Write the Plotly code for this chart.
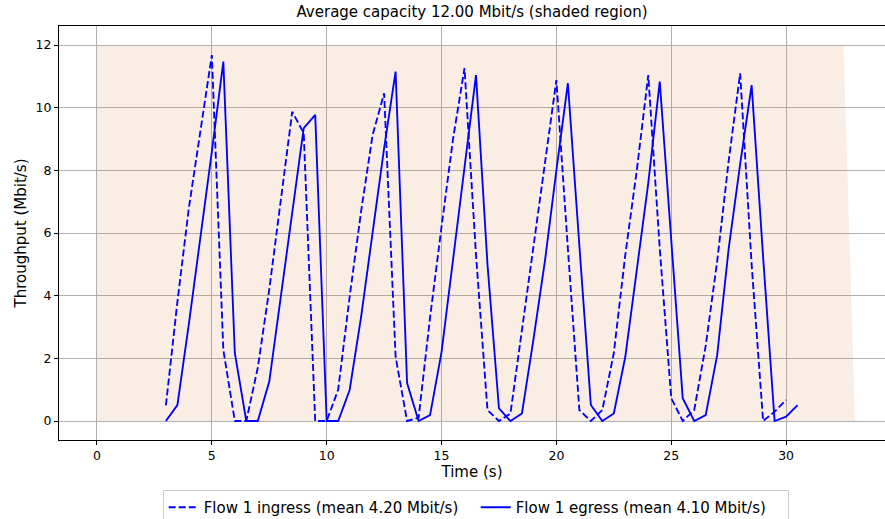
import plotly.graph_objects as go

# ---- data ----
cap_t = [0.0, 32.5, 33.0]
cap_v = [12.0, 12.0, 0.0]

ingress_t = [3.0 + 0.5 * i for i in range(55)]  # 3.0 .. 30.0
ingress_v = [0.5, 3.8, 6.8, 9.3, 11.68, 2.27, 0.0, 0.0, 1.7, 4.2,
             7.0, 9.87, 9.19, 0.0, 0.0, 1.0, 3.97, 6.7, 9.13, 10.46,
             2.05, 0.0, 0.1, 3.3, 6.2, 9.0, 11.26, 5.3, 0.35, 0.0,
             0.24, 2.9, 5.6, 8.2, 10.88, 5.5, 0.35, 0.0, 0.35, 2.17,
             5.3, 8.0, 11.04, 5.5, 0.73, 0.0, 0.35, 2.4, 5.1, 8.3,
             11.1, 5.0, 0.0, 0.3, 0.67]

egress_t = [3.0 + 0.5 * i for i in range(56)]  # 3.0 .. 30.5
egress_v = [0.0, 0.51, 3.1, 5.78, 8.6, 11.47, 2.17, 0.0, 0.0, 1.26,
            4.0, 6.6, 9.35, 9.77, 0.0, 0.0, 0.99, 3.33, 6.03, 8.71,
            11.15, 1.21, 0.0, 0.19, 2.2, 5.2, 8.2, 11.04, 5.0, 0.4,
            0.0, 0.24, 2.6, 5.1, 8.0, 10.78, 5.6, 0.51, 0.0, 0.24,
            2.05, 4.82, 7.59, 10.83, 5.85, 0.73, 0.0, 0.19, 2.1, 5.5,
            8.2, 10.72, 5.23, 0.0, 0.14, 0.51]

x_ticks = [0, 5, 10, 15, 20, 25, 30]
y_ticks = [0, 2, 4, 6, 8, 10, 12]

title_text = "Average capacity 12.00 Mbit/s (shaded region)"
ingress_name = "Flow 1 ingress (mean 4.20 Mbit/s)"
egress_name = "Flow 1 egress (mean 4.10 Mbit/s)"

FONT = "DejaVu Sans"

fig = go.Figure()
fig.add_trace(go.Scatter(
    x=cap_t, y=cap_v, mode="lines", fill="tozeroy",
    line=dict(width=0, color="rgba(0,0,0,0)"),
    fillcolor="rgba(222,142,75,0.15)",
    showlegend=False, hoverinfo="skip"))
fig.add_trace(go.Scatter(
    x=ingress_t, y=ingress_v, mode="lines", name=ingress_name,
    line=dict(color="#0000ff", width=1.85, dash="7px,3px")))
fig.add_trace(go.Scatter(
    x=egress_t, y=egress_v, mode="lines", name=egress_name,
    line=dict(color="#0000ff", width=1.85)))

fig.update_layout(
    width=885, height=519,
    margin=dict(l=59, r=0, t=26, b=79),
    paper_bgcolor="white", plot_bgcolor="white",
    font=dict(family=FONT, color="black", size=12),
    title=dict(text=title_text, x=0.5, xref="paper", y=1 - 6 / 519,
               yref="container", xanchor="center", yanchor="top",
               font=dict(size=15, family=FONT)),
    legend=dict(orientation="h", x=0.5045, xanchor="center",
                y=(519 - 490) / 519, yref="container",
                yanchor="top", bordercolor="#cccccc", borderwidth=1,
                font=dict(size=15, family=FONT), itemwidth=30,
                entrywidth=267, entrywidthmode="pixels",
                tracegroupgap=0),
)
fig.update_xaxes(
    range=[-1.654, 34.306], tickvals=x_ticks, ticktext=[str(v) for v in x_ticks],
    showgrid=True, gridcolor="#b0b0b0", gridwidth=1, zeroline=False,
    showline=True, linecolor="black", linewidth=1, mirror=True,
    ticks="outside", ticklen=4, tickcolor="black", automargin=False,
    tickfont=dict(size=12.5, family=FONT),
    title=dict(text="Time (s)", font=dict(size=15, family=FONT), standoff=4))
fig.update_yaxes(
    range=[-0.606, 12.607], tickvals=y_ticks, ticktext=[str(v) for v in y_ticks],
    showgrid=True, gridcolor="#b0b0b0", gridwidth=1, zeroline=False,
    showline=True, linecolor="black", linewidth=1, mirror=True,
    ticks="outside", ticklen=4, tickcolor="black", automargin=False,
    tickfont=dict(size=12.5, family=FONT),
    title=dict(text="Throughput (Mbit/s)", font=dict(size=15, family=FONT), standoff=5))

fig.write_html("out.html", config={"displayModeBar": False},
               post_script="document.body.style.margin='0';")
